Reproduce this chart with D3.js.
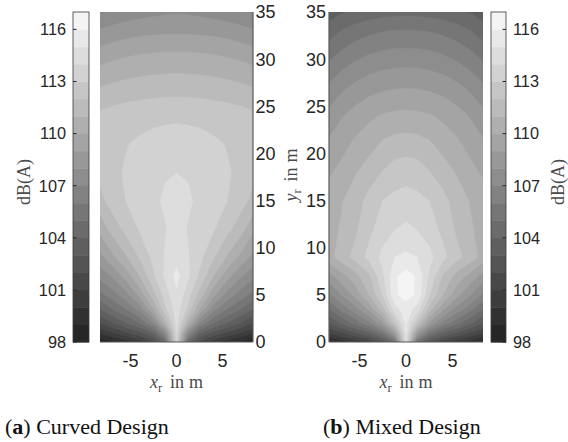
<!DOCTYPE html>
<html>
<head>
<meta charset="utf-8">
<script src="https://cdn.jsdelivr.net/npm/d3@7"></script>
<style>
  body { margin: 0; background: #fff; }
  svg { display: block; }
</style>
</head>
<body>
<script>
// grid positions of the sampled sound levels (m)
const xs = [-8.3, -7, -5.5, -4, -2.5, -1.2, 0, 1.2, 2.5, 4, 5.5, 7, 8.3];
const ys = [0, 1, 2, 3.5, 5, 7, 9, 12, 15, 18, 21, 24, 27, 30, 33, 35];

// dB(A), one row per ys value (bottom to top)
const curvedDesign = [
  [98.3, 98.8, 99.5, 100.4, 101.8, 104.5, 113.5, 104.5, 101.8, 100.4, 99.5, 98.8, 98.3],
  [100.2, 101.0, 101.9, 102.8, 104.2, 107.5, 114.0, 107.5, 104.2, 102.8, 101.9, 101.0, 100.2],
  [102.0, 102.9, 103.9, 105.0, 107.0, 110.8, 114.3, 110.8, 107.0, 105.0, 103.9, 102.9, 102.0],
  [104.0, 105.0, 106.0, 107.4, 110.0, 112.8, 114.5, 112.8, 110.0, 107.4, 106.0, 105.0, 104.0],
  [105.7, 106.5, 107.6, 109.3, 111.6, 113.5, 114.8, 113.5, 111.6, 109.3, 107.6, 106.5, 105.7],
  [107.3, 108.1, 109.4, 111.0, 112.8, 114.2, 115.3, 114.2, 112.8, 111.0, 109.4, 108.1, 107.3],
  [108.7, 109.7, 110.9, 112.1, 113.3, 114.1, 114.6, 114.1, 113.3, 112.1, 110.9, 109.7, 108.7],
  [110.3, 111.4, 112.3, 113.1, 113.6, 113.95, 114.35, 113.95, 113.6, 113.1, 112.3, 111.4, 110.3],
  [111.7, 112.4, 113.0, 113.4, 113.8, 114.15, 114.3, 114.15, 113.8, 113.4, 113.0, 112.4, 111.7],
  [112.3, 112.75, 113.1, 113.45, 113.7, 113.92, 113.99, 113.92, 113.7, 113.45, 113.1, 112.75, 112.3],
  [112.4, 112.75, 112.95, 113.15, 113.35, 113.45, 113.5, 113.45, 113.35, 113.15, 112.95, 112.75, 112.4],
  [112.2, 112.4, 112.55, 112.65, 112.72, 112.78, 112.8, 112.78, 112.72, 112.65, 112.55, 112.4, 112.2],
  [111.0, 111.2, 111.35, 111.45, 111.53, 111.58, 111.6, 111.58, 111.53, 111.45, 111.35, 111.2, 111.0],
  [109.7, 109.9, 110.1, 110.25, 110.33, 110.38, 110.4, 110.38, 110.33, 110.25, 110.1, 109.9, 109.7],
  [108.1, 108.35, 108.55, 108.68, 108.76, 108.8, 108.82, 108.8, 108.76, 108.68, 108.55, 108.35, 108.1],
  [106.9, 107.15, 107.4, 107.6, 107.75, 107.85, 107.9, 107.85, 107.75, 107.6, 107.4, 107.15, 106.9]
];

const mixedDesign = [
  [98.8, 99.5, 100.3, 101.2, 102.5, 105.0, 114.6, 105.0, 102.5, 101.2, 100.3, 99.5, 98.8],
  [101.2, 102.0, 103.0, 104.0, 105.8, 109.0, 115.0, 109.0, 105.8, 104.0, 103.0, 102.0, 101.2],
  [103.0, 104.1, 105.3, 106.7, 108.8, 112.2, 115.2, 112.2, 108.8, 106.7, 105.3, 104.1, 103.0],
  [105.0, 106.3, 107.6, 109.2, 111.6, 114.6, 115.5, 114.6, 111.6, 109.2, 107.6, 106.3, 105.0],
  [106.8, 108.0, 109.3, 111.0, 113.1, 115.85, 116.4, 115.85, 113.1, 111.0, 109.3, 108.0, 106.8],
  [108.6, 109.6, 110.6, 111.8, 113.8, 115.85, 116.4, 115.85, 113.8, 111.8, 110.6, 109.6, 108.6],
  [110.6, 111.5, 112.3, 113.3, 114.3, 115.0, 115.2, 115.0, 114.3, 113.3, 112.3, 111.5, 110.6],
  [110.6, 111.1, 111.8, 112.7, 113.5, 113.95, 114.2, 113.95, 113.5, 112.7, 111.8, 111.1, 110.6],
  [110.5, 110.9, 111.5, 112.3, 113.0, 113.25, 113.4, 113.25, 113.0, 112.3, 111.5, 110.9, 110.5],
  [109.85, 110.3, 110.9, 111.5, 112.05, 112.5, 112.6, 112.5, 112.05, 111.5, 110.9, 110.3, 109.85],
  [109.2, 109.6, 110.2, 110.6, 111.15, 111.4, 111.5, 111.4, 111.15, 110.6, 110.2, 109.6, 109.2],
  [108.3, 108.9, 109.4, 109.8, 110.08, 110.22, 110.25, 110.22, 110.08, 109.8, 109.4, 108.9, 108.3],
  [107.2, 107.75, 108.25, 108.6, 108.82, 108.92, 108.95, 108.92, 108.82, 108.6, 108.25, 107.75, 107.2],
  [105.9, 106.45, 106.9, 107.25, 107.47, 107.57, 107.6, 107.57, 107.47, 107.25, 106.9, 106.45, 105.9],
  [104.5, 105.0, 105.45, 105.75, 105.95, 106.03, 106.05, 106.03, 105.95, 105.75, 105.45, 105.0, 104.5],
  [103.5, 103.9, 104.2, 104.45, 104.6, 104.68, 104.7, 104.68, 104.6, 104.45, 104.2, 103.9, 103.5]
];

const levels = [98, 99, 100, 101, 102, 103, 104, 105, 106, 107, 108, 109, 110, 111, 112, 113, 114, 115, 116];
const barTicks = [98, 101, 104, 107, 110, 113, 116];
const yTicks = [0, 5, 10, 15, 20, 25, 30, 35];
const xTicks = [-5, 0, 5];

const W = 568, H = 442;
const plotTop = 12, plotBottom = 342;
const tickFont = "Liberation Sans, Arial, sans-serif";
const texFont = "Liberation Serif, Times New Roman, serif";
const axisSize = 18, barSize = 16.3, labelSize = 18;

const svg = d3.select("body").append("svg")
    .attr("width", W)
    .attr("height", H);

const color = d3.scaleLinear().domain([98, 116]).range(["#262626", "#f4f4f4"]);
const yScale = d3.scaleLinear().domain([0, 35]).range([plotBottom, plotTop]);
const barScale = d3.scaleLinear().domain([98, 117]).range([plotBottom, plotTop]);

// index -> metre, piecewise linear over the sample grid
const colPos = d3.scaleLinear().domain(d3.range(xs.length)).range(xs).clamp(true);
const rowPos = d3.scaleLinear().domain(d3.range(ys.length)).range(ys).clamp(true);

// "x_r in m" style label, LaTeX-ish spacing
function texLabel(sel, sym) {
  sel.append("tspan").attr("font-style", "italic").text(sym);
  sel.append("tspan").attr("font-size", 12.5).attr("dy", 4).text("r");
  sel.append("tspan").attr("dy", -4).attr("dx", 8).text("in");
  sel.append("tspan").attr("dx", 5).text("m");
}

function drawField(rows, x0, x1, id) {
  const xScale = d3.scaleLinear().domain([-8.3, 8.3]).range([x0, x1]);
  const n = xs.length, m = ys.length;

  const contours = d3.contours()
      .size([n, m])
      .thresholds(levels)(rows.flat());

  const proj = d3.geoTransform({
    point: function(px, py) {
      this.stream.point(xScale(colPos(px - 0.5)), yScale(rowPos(py - 0.5)));
    }
  });
  const path = d3.geoPath(proj);

  svg.append("clipPath").attr("id", id)
    .append("rect")
      .attr("x", x0).attr("y", plotTop)
      .attr("width", x1 - x0).attr("height", plotBottom - plotTop);

  svg.append("g")
      .attr("clip-path", "url(#" + id + ")")
    .selectAll("path")
    .data(contours)
    .join("path")
      .attr("d", path)
      .attr("fill", d => color(d.value))
      .attr("stroke", d => color(d.value))
      .attr("stroke-width", 0.6);

  // x axis
  const ax = svg.append("g").attr("transform", "translate(0," + plotBottom + ")");
  ax.append("line")
      .attr("x1", x0).attr("x2", x1)
      .attr("stroke", "#595959").attr("stroke-width", 1.2);
  ax.selectAll("text")
    .data(xTicks)
    .join("text")
      .attr("x", d => xScale(d))
      .attr("y", 24.5)
      .attr("text-anchor", "middle")
      .attr("font-family", tickFont)
      .attr("font-size", axisSize)
      .attr("fill", "#262626")
      .text(d => d);

  const lbl = svg.append("text")
      .attr("x", xScale(0))
      .attr("y", 388)
      .attr("text-anchor", "middle")
      .attr("font-family", texFont)
      .attr("font-size", labelSize)
      .attr("fill", "#4a4a4a");
  texLabel(lbl, "x");

  return xScale;
}

function drawYAxis(xLine, side) {
  svg.append("line")
      .attr("x1", xLine).attr("x2", xLine)
      .attr("y1", plotTop).attr("y2", plotBottom)
      .attr("stroke", "#595959").attr("stroke-width", 1.2);
  svg.append("g").selectAll("text")
    .data(yTicks)
    .join("text")
      .attr("x", side === "right" ? xLine + 2.5 : xLine - 3)
      .attr("y", d => yScale(d))
      .attr("dy", "0.36em")
      .attr("text-anchor", side === "right" ? "start" : "end")
      .attr("font-family", tickFont)
      .attr("font-size", axisSize)
      .attr("fill", "#262626")
      .text(d => d);
}

function drawBar(x0, w, side, labelX) {
  const g = svg.append("g");
  g.selectAll("rect")
    .data(levels)
    .join("rect")
      .attr("x", x0)
      .attr("width", w)
      .attr("y", d => barScale(d + 1))
      .attr("height", d => barScale(d) - barScale(d + 1) + 0.5)
      .attr("fill", d => color(d));
  g.append("rect")
      .attr("x", x0).attr("y", plotTop)
      .attr("width", w).attr("height", plotBottom - plotTop)
      .attr("fill", "none")
      .attr("stroke", "#3a3a3a").attr("stroke-width", 0.8);
  const tx = side === "left" ? x0 : x0 + w;
  g.selectAll(".tk")
    .data(barTicks)
    .join("line")
      .attr("class", "tk")
      .attr("x1", tx).attr("x2", side === "left" ? tx + 3.5 : tx - 3.5)
      .attr("y1", d => barScale(d)).attr("y2", d => barScale(d))
      .attr("stroke", "#262626");
  g.selectAll(".tl")
    .data(barTicks)
    .join("text")
      .attr("class", "tl")
      .attr("x", side === "left" ? x0 - 7 : x0 + w + 7)
      .attr("y", d => barScale(d))
      .attr("dy", "0.36em")
      .attr("text-anchor", side === "left" ? "end" : "start")
      .attr("font-family", tickFont)
      .attr("font-size", barSize)
      .attr("fill", "#262626")
      .text(d => d);
  svg.append("text")
      .attr("transform", "translate(" + labelX + "," + 182 + ") rotate(-90)")
      .attr("text-anchor", "middle")
      .attr("font-family", texFont)
      .attr("font-size", labelSize)
      .attr("fill", "#4a4a4a")
      .text("dB(A)");
}

// (a) curved design
drawField(curvedDesign, 100, 253, "clipA");
drawYAxis(253, "right");
drawBar(73, 16, "left", 30);

// (b) mixed design
drawField(mixedDesign, 329, 483, "clipB");
drawYAxis(329, "left");
drawBar(491, 15, "right", 564);

// shared y label between the panels
const yl = svg.append("text")
    .attr("transform", "translate(297,175) rotate(-90)")
    .attr("text-anchor", "middle")
    .attr("font-family", texFont)
    .attr("font-size", labelSize)
    .attr("fill", "#4a4a4a");
texLabel(yl, "y");

// captions
function caption(x, tag, title) {
  const t = svg.append("text")
      .attr("x", x).attr("y", 434)
      .attr("font-family", texFont)
      .attr("font-size", 22)
      .attr("fill", "#111");
  t.append("tspan").text("(");
  t.append("tspan").attr("font-weight", "bold").text(tag);
  t.append("tspan").text(") " + title);
}
caption(5, "a", "Curved Design");
caption(323, "b", "Mixed Design");
</script>
</body>
</html>
